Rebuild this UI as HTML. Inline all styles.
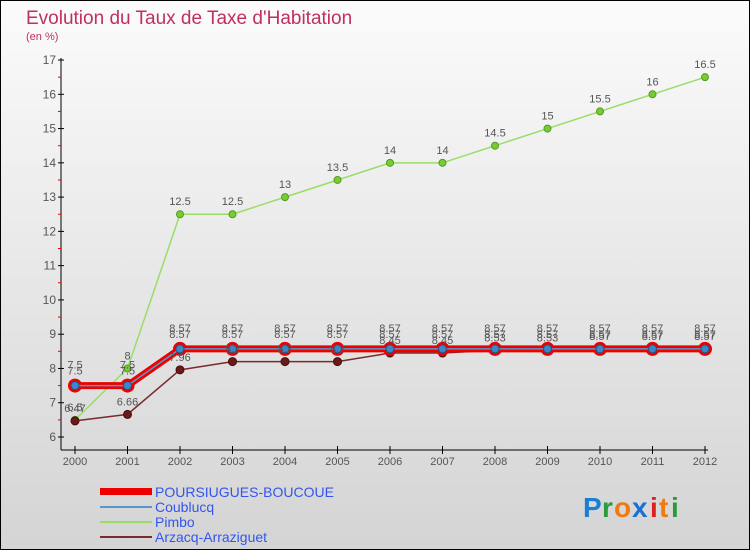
<!DOCTYPE html>
<html><head><meta charset="utf-8">
<style>
html,body{margin:0;padding:0;}
body{width:750px;height:550px;overflow:hidden;font-family:"Liberation Sans",sans-serif;}
svg{display:block;}
</style></head>
<body>
<svg id="chart" width="750" height="550" xmlns="http://www.w3.org/2000/svg">
<defs>
<linearGradient id="bg" x1="0" y1="0" x2="0" y2="1">
<stop offset="0" stop-color="#fbfbfb"/><stop offset="1" stop-color="#d4d4d4"/>
</linearGradient>
</defs>
<rect x="0.5" y="0.5" width="749" height="549" fill="url(#bg)" stroke="#000"/>
<text x="26" y="24" font-size="19" fill="#c0305e">Evolution du Taux de Taxe d'Habitation</text>
<text x="26" y="40" font-size="11" fill="#c0305e">(en %)</text>
<g id="axes"></g>
<g id="series"></g>
<g id="labels"></g>
<g id="legend">
<rect x="100" y="488" width="52" height="7" fill="#ee0000"/>
<text x="155" y="497" font-size="14" fill="#3355ee">POURSIUGUES-BOUCOUE</text>
<line x1="100" y1="507" x2="152" y2="507" stroke="#5599cc" stroke-width="2"/>
<text x="155" y="512" font-size="14" fill="#3355ee">Coublucq</text>
<line x1="100" y1="522" x2="152" y2="522" stroke="#99dd66" stroke-width="2"/>
<text x="155" y="527" font-size="14" fill="#3355ee">Pimbo</text>
<line x1="100" y1="537" x2="152" y2="537" stroke="#7a2a2a" stroke-width="2"/>
<text x="155" y="542" font-size="14" fill="#3355ee">Arzacq-Arraziguet</text>
</g>
<g font-size="28" font-weight="bold">
<text x="583" y="517" fill="#1a7fd4">P</text><text x="602" y="517" fill="#2a9a3a">r</text><text x="614" y="517" fill="#f07a10">o</text><text x="632" y="517" fill="#1a6fd4">x</text><text x="650" y="517" fill="#e02020">i</text><text x="659" y="517" fill="#f07a10">t</text><text x="671" y="517" fill="#2a9a3a">i</text>
</g>
</svg>
<script>
const years = [2000,2001,2002,2003,2004,2005,2006,2007,2008,2009,2010,2011,2012];
const poursiugues = [7.5,7.5,8.57,8.57,8.57,8.57,8.57,8.57,8.57,8.57,8.57,8.57,8.57];
const coublucq = [7.5,7.5,8.57,8.57,8.57,8.57,8.57,8.57,8.57,8.57,8.57,8.57,8.57];
const pimbo = [6.5,8,12.5,12.5,13,13.5,14,14,14.5,15,15.5,16,16.5];
const arzacq = [6.47,6.66,7.96,8.2,8.2,8.2,8.45,8.45,8.53,8.53,8.57,8.57,8.57];
const yTicks = [6,7,8,9,10,11,12,13,14,15,16,17];

const NS="http://www.w3.org/2000/svg";
const xS = y => 75 + (y-2000)*52.5;
const yS = v => 437 - (v-6)*34.27;
function mk(tag, attrs, parent){const e=document.createElementNS(NS,tag);for(const k in attrs)e.setAttribute(k,attrs[k]);parent.appendChild(e);return e;}
const axes=document.getElementById('axes'), ser=document.getElementById('series'), lab=document.getElementById('labels');

let yl=mk('line',{x1:61,y1:58,x2:61,y2:450,stroke:'#000','stroke-width':1},axes);


let xl=mk('line',{x1:61,y1:450,x2:708,y2:450,stroke:'#000','stroke-width':1},axes);


yTicks.forEach(v=>{
  mk('line',{x1:58,y1:yS(v),x2:64,y2:yS(v),stroke:'#000'},axes);
  if(v<17) mk('line',{x1:58,y1:yS(v+0.5),x2:61,y2:yS(v+0.5),stroke:'#e00'},axes);
  const t=mk('text',{x:56,y:yS(v)+4,'font-size':12,fill:'#555','text-anchor':'end'},axes);
  t.textContent=v;
  
  
});
years.forEach(y=>{
  mk('line',{x1:xS(y),y1:446,x2:xS(y),y2:454,stroke:'#000'},axes);
  const t=mk('text',{x:xS(y),y:465,'font-size':11,fill:'#555','text-anchor':'middle'},axes);
  t.textContent=y;
  
  
});

function pts(vals){return vals.map((v,i)=>xS(years[i])+','+yS(v)).join(' ');}
function series(vals,name,lineW,lineC,dotR,dotC,dotStroke,dotSW,labelDy){
  const g=mk('g',{},ser);
  
  
  const pl=mk('polyline',{points:pts(vals),fill:'none',stroke:lineC,'stroke-width':lineW,'stroke-linejoin':'round'},g);
  
  
  vals.forEach((v,i)=>{
    const c=mk('circle',{cx:xS(years[i]),cy:yS(v),r:dotR,fill:dotC,stroke:dotStroke,'stroke-width':dotSW},g);
    
    
    const t=mk('text',{x:xS(years[i]),y:yS(v)+labelDy,'font-size':11,fill:'#555','text-anchor':'middle'},lab);
    t.textContent=v;
    
    
  });
}
series(pimbo,'pimbo',1.5,'#99dd66',3.5,'#77cc33','#559922',1,-9);
series(arzacq,'arzacq',1.5,'#7a2a2a',4,'#6a1a1a','#4a0a0a',1,-9);
series(poursiugues,'poursiugues',7,'#ee0000',7,'#ee0000','none',0,-11);
series(coublucq,'coublucq',1.5,'#5599cc',4,'#3a88cc','#225588',1,-17);
</script>
</body></html>
